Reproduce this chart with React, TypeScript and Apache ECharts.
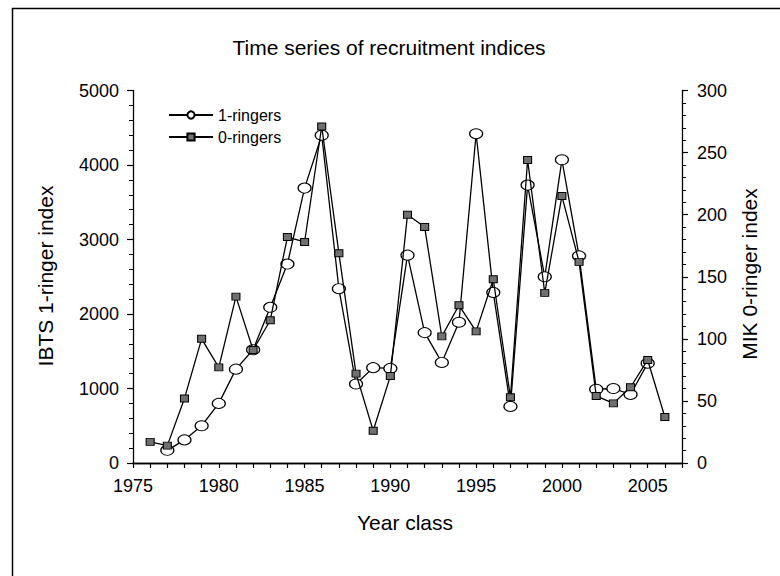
import React, { useEffect, useRef } from "react";
import * as echarts from "echarts";

const years1 = [1977, 1978, 1979, 1980, 1981, 1982, 1983, 1984, 1985, 1986, 1987, 1988, 1989, 1990, 1991, 1992, 1993, 1994, 1995, 1996, 1997, 1998, 1999, 2000, 2001, 2002, 2003, 2004, 2005];
const ringers1 = [170, 310, 500, 800, 1260, 1520, 2090, 2670, 3690, 4400, 2340, 1060, 1280, 1270, 2790, 1750, 1350, 1890, 4420, 2290, 760, 3730, 2500, 4070, 2780, 990, 1000, 920, 1340];

const years0 = [1976, 1977, 1978, 1979, 1980, 1981, 1982, 1983, 1984, 1985, 1986, 1987, 1988, 1989, 1990, 1991, 1992, 1993, 1994, 1995, 1996, 1997, 1998, 1999, 2000, 2001, 2002, 2003, 2004, 2005, 2006];
const ringers0 = [17, 14, 52, 100, 77, 134, 91, 115, 182, 178, 271, 169, 72, 26, 70, 200, 190, 102, 127, 106, 148, 53, 244, 137, 215, 162, 54, 48, 61, 83, 37];

const seriesNames = ["1-ringers", "0-ringers"];
const titleText = "Time series of recruitment indices";
const xName = "Year class";
const yLeftName = "IBTS 1-ringer index";
const yRightName = "MIK 0-ringer index";

const FONT = "'Liberation Sans', Arial, sans-serif";

export default function App() {
  const ref = useRef<HTMLDivElement>(null);
  useEffect(() => {
    if (!ref.current) return;
    const chart = echarts.init(ref.current, null, { renderer: "svg" });
    const axisLine = { show: true, lineStyle: { color: "#000", width: 1.3 } };
    const label = { color: "#000", fontSize: 18, fontFamily: FONT };
    chart.setOption({
      animation: false,
      backgroundColor: "#fff",
      textStyle: { fontFamily: FONT },
      grid: { left: 133, right: 98, top: 90.5, bottom: 113, containLabel: false },
      legend: {
        orient: "vertical",
        left: 163,
        top: 102,
        itemWidth: 44,
        itemHeight: 9,
        itemGap: 6,
        textStyle: { color: "#000", fontSize: 16, fontFamily: FONT },
        data: seriesNames,
      },
      xAxis: [
        {
          type: "value",
          min: 1975,
          max: 2007,
          interval: 1,
          position: "bottom",
          axisLine,
          axisTick: { show: true, length: 5, lineStyle: { color: "#000", width: 1.2 } },
          axisLabel: { ...label, margin: 14, formatter: (v: number) => (v % 5 === 0 ? String(v) : "") },
          splitLine: { show: false },
        },
        {
          type: "value",
          min: 1975,
          max: 2007,
          position: "top",
          axisLine,
          axisTick: { show: false },
          axisLabel: { show: false },
          splitLine: { show: false },
        },
      ],
      yAxis: [
        {
          type: "value",
          min: 0,
          max: 5000,
          interval: 1000,
          position: "left",
          axisLine,
          axisTick: { show: true, length: 6, lineStyle: { color: "#000", width: 1.2 } },
          minorTick: { show: true, splitNumber: 5, length: 4, lineStyle: { color: "#000", width: 1 } },
          axisLabel: { ...label, margin: 14, formatter: (v: number) => String(v) },
          splitLine: { show: false },
          minorSplitLine: { show: false },
        },
        {
          type: "value",
          min: 0,
          max: 300,
          interval: 50,
          position: "right",
          axisLine,
          axisTick: { show: true, length: 6, lineStyle: { color: "#000", width: 1.2 } },
          minorTick: { show: true, splitNumber: 5, length: 4, lineStyle: { color: "#000", width: 1 } },
          axisLabel: { ...label, margin: 15, formatter: (v: number) => String(v) },
          splitLine: { show: false },
          minorSplitLine: { show: false },
        },
      ],
      series: [
        {
          name: seriesNames[0],
          type: "line",
          xAxisIndex: 0,
          yAxisIndex: 0,
          data: years1.map((y, i) => [y, ringers1[i]]),
          symbol: "circle",
          symbolSize: [13, 10],
          showAllSymbol: true,
          lineStyle: { color: "#000", width: 1.3 },
          itemStyle: { color: "#fff", borderColor: "#000", borderWidth: 1.1 },
          z: 2,
        },
        {
          name: seriesNames[1],
          type: "line",
          xAxisIndex: 0,
          yAxisIndex: 1,
          data: years0.map((y, i) => [y, ringers0[i]]),
          symbol: "rect",
          symbolSize: [8, 7],
          showAllSymbol: true,
          lineStyle: { color: "#000", width: 1.3 },
          itemStyle: { color: "#707070", borderColor: "#000", borderWidth: 1 },
          z: 3,
        },
      ],
      graphic: [
        {
          type: "rect",
          shape: { x: 12.5, y: 8.5, width: 900, height: 700 },
          style: { fill: "none", stroke: "#000", lineWidth: 1.5 },
          silent: true,
        },
        {
          type: "text",
          x: 389,
          y: 47,
          style: { text: titleText, fill: "#000", fontSize: 21, fontFamily: FONT, align: "center", verticalAlign: "middle" },
        },
        {
          type: "text",
          x: 405,
          y: 522,
          style: { text: xName, fill: "#000", fontSize: 21, fontFamily: FONT, align: "center", verticalAlign: "middle" },
        },
        {
          type: "text",
          x: 45,
          y: 276,
          rotation: Math.PI / 2,
          style: { text: yLeftName, fill: "#000", fontSize: 21, fontFamily: FONT, align: "center", verticalAlign: "middle" },
        },
        {
          type: "text",
          x: 749,
          y: 274,
          rotation: Math.PI / 2,
          style: { text: yRightName, fill: "#000", fontSize: 21, fontFamily: FONT, align: "center", verticalAlign: "middle" },
        },
      ],
    });
    return () => chart.dispose();
  }, []);
  return <div ref={ref} style={{ position: "absolute", left: 0, top: 0, width: 780, height: 576 }} />;
}
